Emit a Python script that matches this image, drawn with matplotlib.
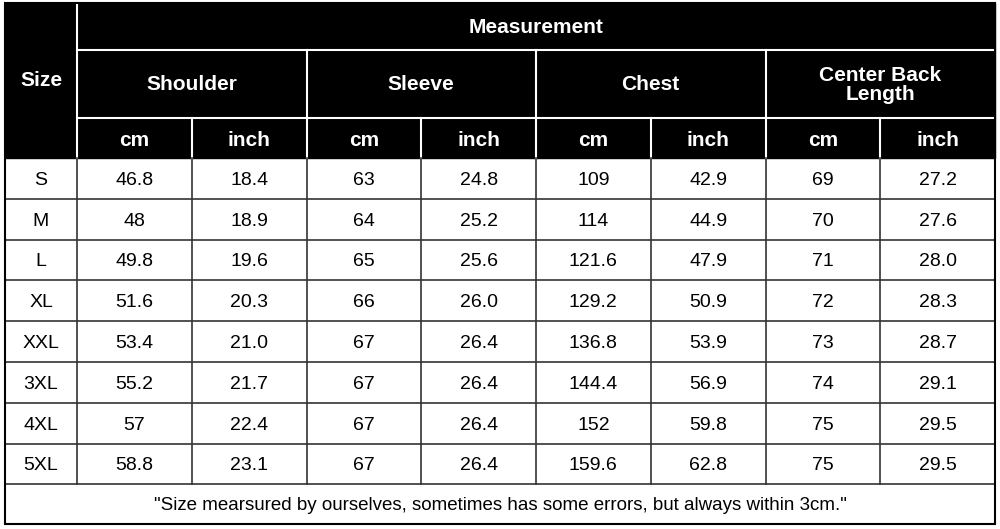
import matplotlib
matplotlib.use("Agg")
import matplotlib.pyplot as plt
from matplotlib.patches import Rectangle

sizes = ["S", "M", "L", "XL", "XXL", "3XL", "4XL", "5XL"]
shoulder_cm = ["46.8", "48", "49.8", "51.6", "53.4", "55.2", "57", "58.8"]
shoulder_in = ["18.4", "18.9", "19.6", "20.3", "21.0", "21.7", "22.4", "23.1"]
sleeve_cm = ["63", "64", "65", "66", "67", "67", "67", "67"]
sleeve_in = ["24.8", "25.2", "25.6", "26.0", "26.4", "26.4", "26.4", "26.4"]
chest_cm = ["109", "114", "121.6", "129.2", "136.8", "144.4", "152", "159.6"]
chest_in = ["42.9", "44.9", "47.9", "50.9", "53.9", "56.9", "59.8", "62.8"]
cbl_cm = ["69", "70", "71", "72", "73", "74", "75", "75"]
cbl_in = ["27.2", "27.6", "28.0", "28.3", "28.7", "29.1", "29.5", "29.5"]
groups = ["Shoulder", "Sleeve", "Chest", "Center Back\nLength"]
units = ["cm", "inch"]
title = "Measurement"
size_label = "Size"
note = "\"Size mearsured by ourselves, sometimes has some errors, but always within 3cm.\""

plt.rcParams['font.family'] = ['Liberation Sans', 'DejaVu Sans']
fig = plt.figure(figsize=(10, 5.29), dpi=100)
ax = fig.add_axes([0, 0, 1, 1])
ax.set_xlim(0, 1000); ax.set_ylim(529, 0); ax.axis("off")

X0, X1 = 5, 995
xs = [X0, 77] + [77 + i * (995 - 77) / 8 for i in range(1, 9)]
y_top, y_m, y_g, y_u = 3, 50, 118, 158
row_h = 40.8
y_foot = y_u + 8 * row_h
y_bot = 524

ax.add_patch(Rectangle((X0, y_top), X1 - X0, y_u - y_top, color="black", zorder=1))
wl = dict(color="white", lw=1.5, zorder=2)
ax.plot([77, 77], [y_top, y_u], **wl)
ax.plot([77, X1], [y_m, y_m], **wl)
ax.plot([77, X1], [y_g, y_g], **wl)
for i in range(2, 9):
    top = y_m if (i % 2 == 1) else y_g
    ax.plot([xs[i], xs[i]], [top, y_u], **wl)
hb = dict(color="white", fontweight="bold", ha="center", va="center", fontsize=15, zorder=3)
ax.text((77 + X1) / 2, (y_top + y_m) / 2 + 1, title, **hb)
ax.text((X0 + 77) / 2, (y_top + y_u) / 2, size_label, **hb)
for g, name in enumerate(groups):
    ax.text((xs[1 + 2 * g] + xs[3 + 2 * g]) / 2, (y_m + y_g) / 2 + 1, name, linespacing=1.05, **hb)
    for u in range(2):
        ax.text((xs[1 + 2 * g + u] + xs[2 + 2 * g + u]) / 2, (y_g + y_u) / 2 + 2, units[u], **hb)

cols = [sizes, shoulder_cm, shoulder_in, sleeve_cm, sleeve_in, chest_cm, chest_in, cbl_cm, cbl_in]
gl = dict(color="#333333", lw=1.2, zorder=2)
for r in range(8):
    y = y_u + r * row_h
    for c in range(9):
        ax.text((xs[c] + xs[c + 1]) / 2, y + row_h / 2 + 2, cols[c][r], ha="center", va="center",
                fontsize=14, color="black", zorder=3)
    ax.plot([X0, X1], [y + row_h, y + row_h], **gl)
for i in range(1, 9):
    ax.plot([xs[i], xs[i]], [y_u, y_foot], **gl)
ax.text((X0 + X1) / 2, (y_foot + y_bot) / 2 + 1, note, ha="center", va="center", fontsize=13.5, zorder=3)
ax.add_patch(Rectangle((X0, y_top), X1 - X0, y_bot - y_top, fill=False, ec="black", lw=1.5, zorder=4))

fig.savefig("out.png", dpi=100)
